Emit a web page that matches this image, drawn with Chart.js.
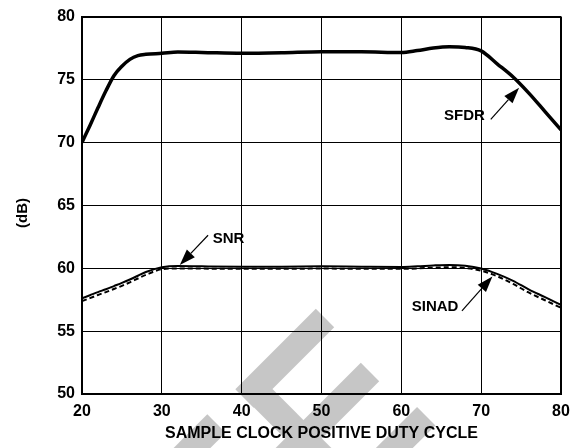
<!DOCTYPE html>
<html><head><meta charset="utf-8">
<script src="https://cdn.jsdelivr.net/npm/chart.js@4/dist/chart.umd.min.js"></script>
<style>html,body{margin:0;padding:0;background:#fff}#wrap{width:580px;height:448px;position:relative}</style>
</head><body><div id="wrap"><canvas id="c"></canvas></div>
<script>
// duty cycle (%) sample points
const dutyCycle = [20,21,22,23,24,25,26,27,28,30,32,35,40,45,50,55,60,62,64,66,68,70,72,74,76,78,80];
const sfdr  = [70.0,71.35,72.75,74.1,75.3,76.05,76.6,76.9,77.0,77.08,77.18,77.15,77.08,77.12,77.2,77.2,77.15,77.3,77.5,77.6,77.55,77.28,76.25,75.2,73.9,72.45,71.0];
const snr   = [57.6,57.85,58.1,58.33,58.58,58.83,59.1,59.4,59.7,60.08,60.18,60.15,60.12,60.12,60.15,60.12,60.1,60.15,60.22,60.26,60.2,59.98,59.55,59.0,58.3,57.7,57.08];
const sinad = [57.38,57.62,57.87,58.1,58.35,58.6,58.88,59.18,59.47,59.92,59.98,59.97,59.95,59.95,59.97,59.95,59.95,59.98,60.04,60.08,60.02,59.8,59.36,58.75,58.05,57.45,56.85];
const xTicks = [20,30,40,50,60,70,80];
const yTicks = [50,55,60,65,70,75,80];
const seriesNames = ['SFDR','SNR','SINAD'];
// callout labels: [text, labelX, labelY, tailX, tailY, tipX, tipY] in data units
const callouts = [
  ['SFDR', 67.9, 72.2, 71.2, 71.83, 74.75, 74.35],
  ['SNR', 38.35, 62.45, 35.79, 62.62, 32.25, 60.26],
  ['SINAD', 64.23, 56.99, 67.59, 56.6, 71.41, 59.35]
];

const FONT = "'Liberation Sans', Arial, Helvetica, sans-serif";
const toPts = ys => dutyCycle.map((x,i)=>({x:x,y:ys[i]}));

// faint background watermark strokes (decorative, canvas pixels)
const watermark = [
  [325,318,244.5,398.5],
  [370,372,280,462],
  [426.25,416.25,340,502],
  [245.5,380.5,432.5,567.5],
  [216.5,423.5,170,470]
];

const plugin = {
  id:'extras',
  beforeDraw(chart){
    const ctx = chart.ctx;
    ctx.save();
    ctx.fillStyle='#fff'; ctx.fillRect(0,0,chart.width,chart.height);
    ctx.strokeStyle='#c6c6c6'; ctx.lineWidth=26; ctx.lineCap='butt';
    for(const [a,b,c,d] of watermark){ctx.beginPath();ctx.moveTo(a,b);ctx.lineTo(c,d);ctx.stroke();}
    ctx.restore();
  },
  afterDatasetsDraw(chart){
    const ctx = chart.ctx, xs = chart.scales.x, ys = chart.scales.y;
    ctx.save();
    ctx.fillStyle='#000'; ctx.strokeStyle='#000';
    ctx.font = 'bold 15px '+FONT;
    ctx.textAlign='center'; ctx.textBaseline='middle';
    for(const [t,lx,ly,tx,ty,px,py] of callouts){
      ctx.fillText(t, xs.getPixelForValue(lx), ys.getPixelForValue(ly)+1);
      const x1=xs.getPixelForValue(tx), y1=ys.getPixelForValue(ty);
      const x2=xs.getPixelForValue(px), y2=ys.getPixelForValue(py);
      const ang=Math.atan2(y2-y1,x2-x1), L=16, W=5.5;
      const bx=x2-L*Math.cos(ang), by=y2-L*Math.sin(ang);
      ctx.lineWidth=1.2;
      ctx.beginPath(); ctx.moveTo(x1,y1); ctx.lineTo(bx,by); ctx.stroke();
      ctx.beginPath();
      ctx.moveTo(x2,y2);
      ctx.lineTo(bx+W*Math.sin(ang), by-W*Math.cos(ang));
      ctx.lineTo(bx-W*Math.sin(ang), by+W*Math.cos(ang));
      ctx.closePath(); ctx.fill();
    }
    // y-axis title
    ctx.translate(21.5, 213);
    ctx.rotate(-Math.PI/2);
    ctx.fillText('(dB)', 0, 1);
    ctx.restore();
  }
};

new Chart(document.getElementById('c'), {
  type:'line',
  data:{datasets:[
    {label:seriesNames[0], data:toPts(sfdr), borderColor:'#000', borderWidth:3.5, pointRadius:0, cubicInterpolationMode:'monotone', fill:false},
    {label:seriesNames[1], data:toPts(snr), borderColor:'#000', borderWidth:2, pointRadius:0, cubicInterpolationMode:'monotone', fill:false},
    {label:seriesNames[2], data:toPts(sinad), borderColor:'#000', borderWidth:2, borderDash:[5,3], pointRadius:0, cubicInterpolationMode:'monotone', fill:false}
  ]},
  options:{
    responsive:true, maintainAspectRatio:false, animation:false,
    layout:{padding:{top:12,right:19,bottom:0,left:0}},
    plugins:{legend:{display:false}, tooltip:{enabled:false}},
    scales:{
      x:{type:'linear', min:20, max:80,
        afterBuildTicks(s){s.ticks = xTicks.map(v=>({value:v}));},
        afterFit(s){s.height=54;},
        grid:{color:'#000', drawTicks:false, lineWidth:c=>(c.tick && c.tick.value===80)?2:1},
        border:{display:true, color:'#000', width:2},
        ticks:{color:'#000', padding:8, maxRotation:0, font:{family:FONT, size:16, weight:'bold'}},
        title:{display:true, text:'SAMPLE CLOCK POSITIVE DUTY CYCLE', color:'#000', padding:{top:0,bottom:5}, font:{family:FONT, size:16, weight:'bold'}}
      },
      y:{min:50, max:80,
        afterBuildTicks(s){s.ticks = yTicks.map(v=>({value:v}));},
        afterFit(s){s.width=82;},
        grid:{color:'#000', drawTicks:false, lineWidth:c=>(c.tick && c.tick.value===80)?2:1},
        border:{display:true, color:'#000', width:2},
        ticks:{color:'#000', padding:7, font:{family:FONT, size:16, weight:'bold'}}
      }
    }
  },
  plugins:[plugin]
});
</script>
</body></html>
